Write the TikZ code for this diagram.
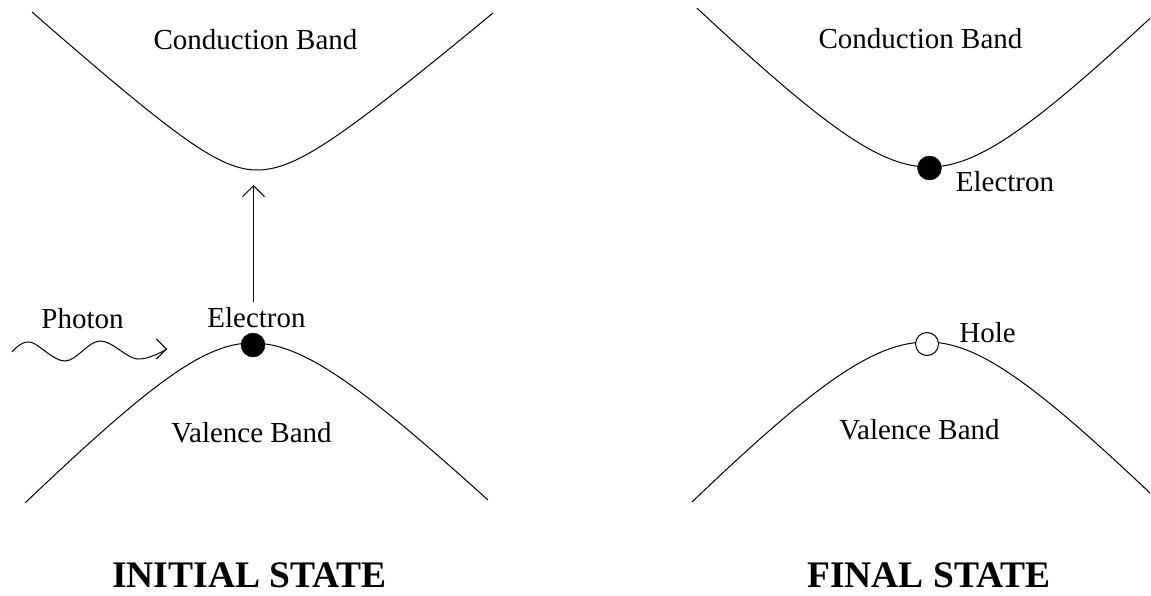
\documentclass[tikz,border=0pt]{standalone}
\usepackage{fontspec}
\setmainfont{Liberation Serif}
\usetikzlibrary{arrows.meta}
\tikzset{
  band/.style={line width=1pt, line join=round},
  lbl/.style={font=\fontsize{29}{34}\selectfont, inner sep=0pt, anchor=base},
  ttl/.style={font=\fontsize{37.5}{42}\selectfont\bfseries, inner sep=0pt, anchor=base west},
  edot/.style={circle, fill=black, draw=black, minimum size=24pt, inner sep=0pt},
  hdot/.style={circle, fill=white, draw=black, line width=1pt, minimum size=23pt, inner sep=0pt},
  arr/.style={line width=1pt, -{Straight Barb[length=11pt,width=22pt,line width=1pt]}},
}
\begin{document}
\begin{tikzpicture}[x=10pt,y=-10pt]
\useasboundingbox (0,0) rectangle (115.1,59.6);

% ---------- INITIAL STATE ----------
% conduction band
\draw[band] plot[domain=3.2:25.7,samples=80] (\x,{17.0-(sqrt(5.08*5.08+0.81*(\x-25.7)*(\x-25.7))-5.08)})
  -- plot[domain=25.7:49.3,samples=80] (\x,{17.0-(sqrt(25+0.7245*(\x-25.7)*(\x-25.7))-5)});
% valence band
\draw[band] plot[domain=2.5:25.2,samples=80] (\x,{34.3+(sqrt(8.7*8.7+1.037*(\x-25.2)*(\x-25.2))-8.7)})
  -- plot[domain=25.2:48.8,samples=80] (\x,{34.3+(sqrt(8.7*8.7+0.933*(\x-25.2)*(\x-25.2))-8.7)});

\node[lbl] (cb1) at (25.55,5.0) {Conduction Band};
\node[lbl] (vb1) at (25.15,44.2) {Valence Band};
\node[lbl] (el1) at (25.65,32.7) {Electron};
\node[lbl] (ph)  at (8.25,32.8) {Photon};
\node[edot] (e1) at (25.3,34.5) {};

\coordinate (a1) at (25.35,30.2);
\coordinate (a2) at (25.35,18.5);
\draw[arr] (a1) -- (a2);

% photon wave
\coordinate (w0) at (1.2,35.2);
\coordinate (w5) at (16.7,34.9);
\draw[line width=1pt] plot[smooth,tension=0.6] coordinates {(w0) (3.0,34.2) (6.5,36.1) (10.0,34.1) (13.7,35.9) (w5)};
\coordinate (w4) at (16.5,34.9);
\draw[-{Straight Barb[length=10pt,width=20pt,line width=1pt]},line width=1pt] (w4) -- (w5);

\node[ttl] (t1) at (11.2,58.7) {INITIAL STATE};

% ---------- FINAL STATE ----------
\draw[band] plot[domain=69.7:92.9,samples=80] (\x,{16.7-(sqrt(81+(\x-92.9)*(\x-92.9))-9)})
  -- plot[domain=92.9:115.0,samples=80] (\x,{16.7-(sqrt(81+(\x-92.9)*(\x-92.9))-9)});
\draw[band] plot[domain=69.2:92.7,samples=80] (\x,{34.2+(sqrt(121+1.101*(\x-92.7)*(\x-92.7))-11)})
  -- plot[domain=92.7:115.0,samples=80] (\x,{34.2+(sqrt(100+1.066*(\x-92.7)*(\x-92.7))-10)});

\node[lbl] (cb2) at (92.05,4.9) {Conduction Band};
\node[lbl] (vb2) at (91.95,43.9) {Valence Band};
\node[lbl] (el2) at (100.5,19.2) {Electron};
\node[lbl] (ho)  at (98.75,34.2) {Hole};
\node[edot] (e2) at (92.95,16.8) {};
\node[hdot] (h2) at (92.7,34.4) {};

\node[ttl] (t2) at (80.7,58.7) {FINAL STATE};
\end{tikzpicture}
\end{document}
